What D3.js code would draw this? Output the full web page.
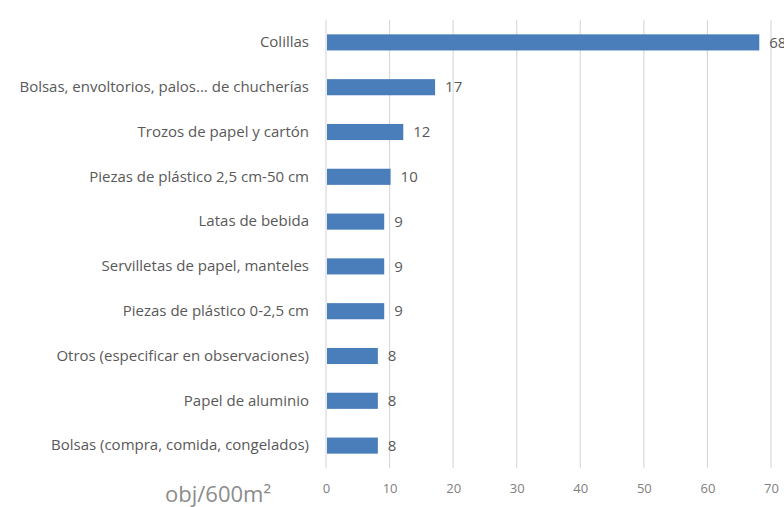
<!DOCTYPE html>
<html>
<head>
<meta charset="utf-8">
<script src="https://cdn.jsdelivr.net/npm/d3@7"></script>
<style>
  body { margin: 0; background: #fff; }
  text { font-family: "Open Sans", Lato, sans-serif; }
</style>
</head>
<body>
<svg width="784" height="507"></svg>
<script>
// categories and values, top to bottom
let categories = [
  "Colillas",
  "Bolsas, envoltorios, palos... de chucherías",
  "Trozos de papel y cartón",
  "Piezas de plástico 2,5 cm-50 cm",
  "Latas de bebida",
  "Servilletas de papel, manteles",
  "Piezas de plástico 0-2,5 cm",
  "Otros (especificar en observaciones)",
  "Papel de aluminio",
  "Bolsas (compra, comida, congelados)"
];
let values = [68, 17, 12, 10, 9, 9, 9, 8, 8, 8];
let xTicks = [0, 10, 20, 30, 40, 50, 60, 70];
let unitLabel = "obj/600m²";

let svg = d3.select("svg"),
  margin = { top: 20, right: 13, bottom: 39, left: 326 },
  width = +svg.attr("width") - margin.left - margin.right,
  height = +svg.attr("height") - margin.top - margin.bottom;

let data = categories.map(function (c, i) {
  return { name: c, value: values[i] };
});

let x = d3.scaleLinear().domain([0, 70]).range([0, width]);
let y = d3.scaleBand().domain(categories).range([0, height]).paddingInner(0.64).paddingOuter(0.32);

let g = svg.append("g")
  .attr("transform", "translate(" + margin.left + "," + margin.top + ")");

// vertical gridlines
g.selectAll(".grid")
  .data(xTicks)
  .enter()
  .append("line")
  .attr("x1", function (d) { return x(d); })
  .attr("x2", function (d) { return x(d); })
  .attr("y1", 0)
  .attr("y2", height)
  .attr("stroke", "#d9d9d9")
  .attr("stroke-width", 1.2);

// bottom axis labels only
let xAxis = g.append("g")
  .attr("transform", "translate(0," + height + ")")
  .call(d3.axisBottom(x).tickValues(xTicks).tickSize(0).tickPadding(16));
xAxis.select(".domain").remove();
xAxis.selectAll("text")
  .attr("fill", "#808080")
  .style("font-size", "13px");

// category labels
let yAxis = g.append("g")
  .call(d3.axisLeft(y).tickSize(0).tickPadding(17));
yAxis.select(".domain").remove();
yAxis.selectAll("text")
  .attr("fill", "#595959")
  .style("font-size", "15px");

// bars
g.selectAll(".bar")
  .data(data)
  .enter()
  .append("rect")
  .attr("class", "bar")
  .attr("x", x(0) + 1)
  .attr("y", function (d) { return y(d.name); })
  .attr("width", function (d) { return x(d.value) - x(0); })
  .attr("height", y.bandwidth())
  .attr("fill", "#4a7ebb");

// value labels
g.selectAll(".val")
  .data(data)
  .enter()
  .append("text")
  .attr("x", function (d) { return x(d.value) + 11; })
  .attr("y", function (d) { return y(d.name) + y.bandwidth() / 2; })
  .attr("dy", "0.35em")
  .attr("fill", "#595959")
  .style("font-size", "15px")
  .text(function (d) { return d.value; });

// unit label
svg.append("text")
  .attr("x", 165)
  .attr("y", 502)
  .attr("fill", "#8c8c8c")
  .style("font-size", "22px")
  .text(unitLabel);
</script>
</body>
</html>
